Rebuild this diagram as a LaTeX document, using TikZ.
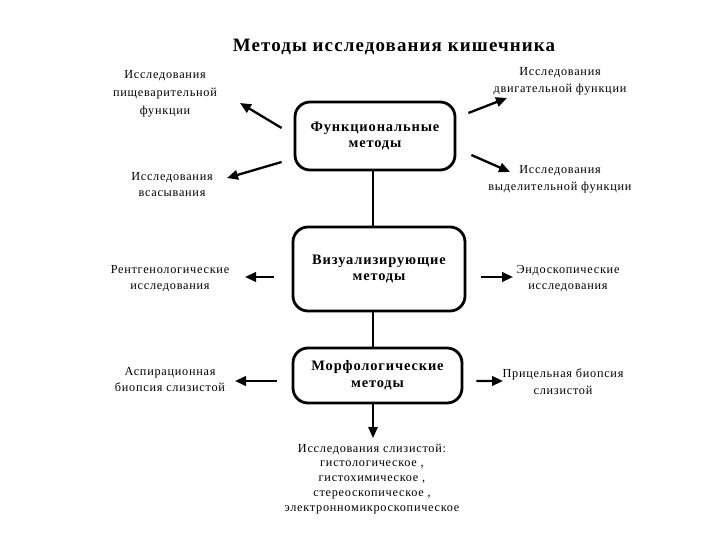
\documentclass[tikz,border=0pt]{standalone}
\usepackage{fontspec}
\setmainfont{Liberation Serif}
\newfontfamily\spacedfont[LetterSpace=6]{Liberation Serif}
\usetikzlibrary{arrows.meta}

\begin{document}
\begin{tikzpicture}[x=1bp, y=-1bp,
  method/.style={draw, line width=2.8bp, rounded corners=15bp, align=center,
    font=\spacedfont\bfseries\fontsize{14.5}{17}\selectfont},
  study/.style={align=center, inner sep=0pt,
    font=\spacedfont\fontsize{12.3}{16.5}\selectfont},
  arr/.style={line width=2.3bp, -{Triangle[length=11bp, width=9.5bp]}},
  link/.style={line width=1.4bp}]

\useasboundingbox (0,0) rectangle (720,540) ;

% title
\node[font=\spacedfont\bfseries\fontsize{19}{22}\selectfont] (title) at (394,47) {Методы исследования кишечника} ;

% groups of methods
\node[method, minimum width=160bp, minimum height=68bp] (func) at (375,136) {Функциональные\\методы} ;
\node[method, minimum width=172bp, minimum height=84bp] (vis) at (379,269) {Визуализирующие\\методы} ;
\node[method, minimum width=169bp, minimum height=55bp] (morph) at (377.5,375.5) {Морфологические\\методы} ;

% studies
\node[study, font=\spacedfont\fontsize{12.3}{18}\selectfont] (pisch) at (165,94) {Исследования\\пищеварительной\\функции} ;
\node[study] (vsas) at (172,184.5) {Исследования\\всасывания} ;
\node[study] (dvig) at (560,81.5) {Исследования\\двигательной функции} ;
\node[study] (vydel) at (560,179.5) {Исследования\\выделительной функции} ;
\node[study] (rentg) at (170,278.5) {Рентгенологические\\исследования} ;
\node[study] (endo) at (568,278.5) {Эндоскопические\\исследования} ;
\node[study] (aspir) at (170,379.5) {Аспирационная\\биопсия слизистой} ;
\node[study] (pricel) at (563,381.5) {Прицельная биопсия\\слизистой} ;
\node[study, font=\spacedfont\fontsize{12.3}{15}\selectfont] (slizist) at (372,479) {Исследования слизистой:\\гистологическое ,\\гистохимическое ,\\стереоскопическое ,\\электронномикроскопическое} ;

% vertical links
\draw[link] ([xshift=-2]func.south) -- ([xshift=-2]func.south |- vis.north) ;
\draw[link] ([xshift=-2]func.south |- vis.south) -- ([xshift=-2]func.south |- morph.north) ;
\draw[arr, line width=1.4bp] ([xshift=-2]func.south |- morph.south) -- ([xshift=-2]func.south |- 0,438) coordinate (slizistTop) ;

% arrows to studies
\draw[arr] ([shift={(-12,-8)}]func.west) -- ([shift={(75,9)}]pisch.center) ;
\draw[arr] ([shift={(-12,26)}]func.west) -- ([shift={(55,-6.5)}]vsas.center) ;
\draw[arr] ([shift={(12,-23)}]func.east) -- ([shift={(-53,16.5)}]dvig.center) ;
\draw[arr] ([shift={(15,19)}]func.east) -- ([shift={(-50,-7.5)}]vydel.center) ;
\draw[arr] ([shift={(-18,8)}]vis.west) -- ([shift={(75,-1.5)}]rentg.center) ;
\draw[arr] ([shift={(15,8)}]vis.east) -- ([shift={(-55,-1.5)}]endo.center) ;
\draw[arr] ([shift={(-15,5.5)}]morph.west) -- ([shift={(65,1.5)}]aspir.center) ;
\draw[arr] ([shift={(13,5.5)}]morph.east) -- ([shift={(-60,-0.5)}]pricel.center) ;

\end{tikzpicture}
\end{document}
